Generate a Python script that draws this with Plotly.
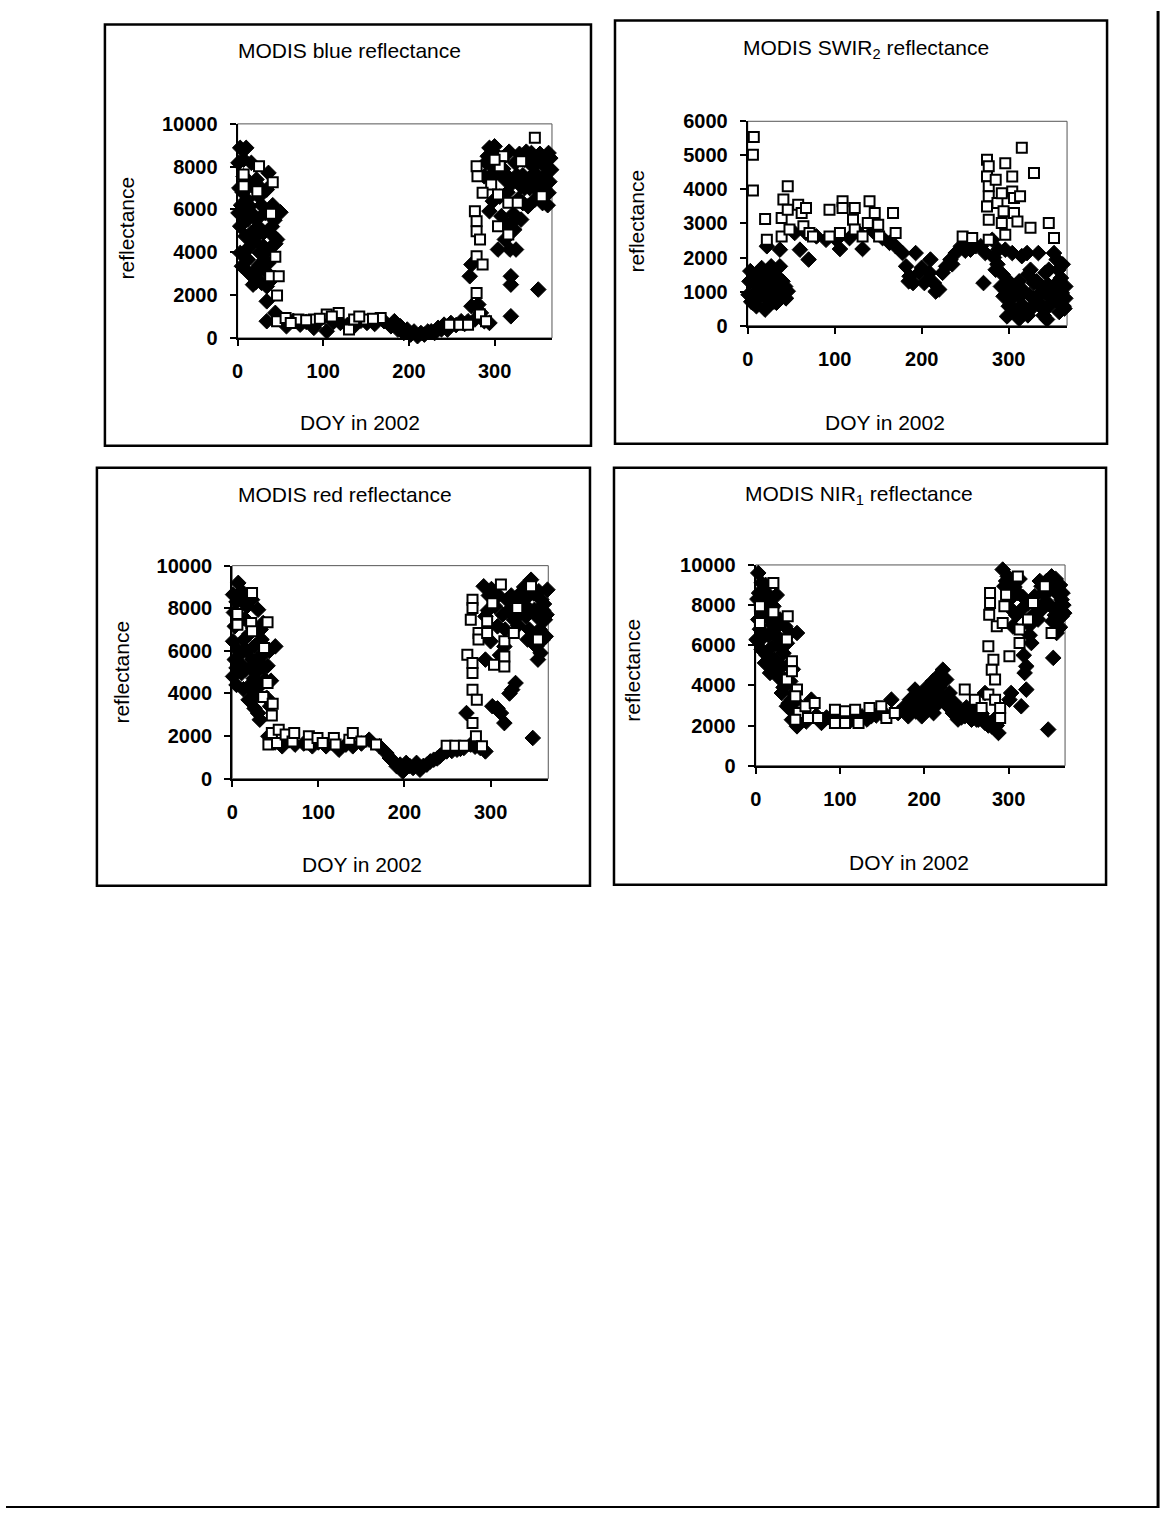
import plotly.graph_objects as go

# ---------------- data (DOY, reflectance) ----------------
BLUE_DIAMONDS = [
    (3, 8880), (10, 8880), (1, 8180), (7, 8330), (16, 8180), (7, 7550), (22, 7400), (1, 5840), (11, 6460),
    (3, 5220), (12, 5530), (14, 6150), (22, 5530), (9, 4750), (16, 4910), (26, 4910), (3, 3970), (5, 3350),
    (12, 3660), (18, 3040), (18, 2490), (22, 3040), (28, 2570), (26, 3970), (30, 4280), (30, 4910), (32, 5840),
    (34, 6930), (36, 7710), (42, 4750), (36, 3500), (34, 2410), (34, 1710), (50, 5870), (20, 7000), (28, 6200),
    (40, 5200), (38, 4200), (6, 6800), (15, 4300), (25, 6600), (44, 4400),
    (2, 7000), (4, 6200), (8, 5800), (13, 7200), (17, 5800), (19, 4500), (24, 5200), (27, 7000), (29, 3500),
    (32, 4000), (37, 6000), (41, 6200), (43, 5500), (46, 4600), (8, 4000), (14, 3000), (21, 2600), (25, 3400),
    (33, 3100), (39, 2700),
    (34, 780), (44, 1170), (50, 900), (57, 545), (65, 800), (73, 620), (80, 750), (89, 470), (95, 800),
    (104, 310), (112, 750), (120, 700), (128, 600), (136, 545), (144, 800), (151, 700), (160, 650), (171, 780),
    (179, 545), (183, 780), (187, 390), (190, 545), (194, 230), (198, 390), (202, 155), (206, 300), (210, 80),
    (214, 230), (218, 155), (222, 300), (226, 310), (230, 230), (234, 470), (238, 400), (241, 620), (245, 390),
    (249, 700), (255, 600), (261, 780), (265, 650), (269, 780), (277, 860), (288, 780), (294, 700),
    (271, 2880), (273, 3430), (273, 1480), (281, 1560), (284, 1170), (288, 7550), (292, 8490), (294, 8880),
    (294, 5920), (298, 6390), (300, 8950), (302, 7710), (304, 4130), (308, 8330), (308, 5690), (312, 7400),
    (312, 4600), (319, 2880), (319, 2490), (319, 1010), (318, 4130), (325, 4130), (323, 5060), (324, 8180),
    (331, 5530), (331, 7090), (335, 8330), (339, 6150), (339, 7400), (343, 8640), (347, 6460), (347, 7710),
    (351, 2260), (355, 8330), (358, 6780), (358, 7550), (363, 8640), (363, 6780), (366, 7860), (335, 7000),
    (345, 8000), (352, 7200), (360, 7400), (328, 6500), (315, 6800), (365, 8400),
    (296, 7600), (303, 8500), (306, 6600), (310, 7900), (314, 7600), (317, 8700), (320, 7200), (326, 7600),
    (329, 8600), (333, 7600), (337, 8700), (341, 7000), (344, 7400), (349, 8300), (353, 8600), (357, 8100),
    (361, 8000), (364, 7300), (350, 6900), (356, 6300), (362, 6200), (326, 5600), (333, 6300), (322, 5800),
    (316, 5300), (290, 8200), (297, 8000),
]
BLUE_SQUARES = [
    (7, 7630), (7, 7090), (25, 8020), (23, 6850), (41, 7270), (39, 5800), (44, 3790), (38, 2880), (48, 2880),
    (46, 1980), (46, 780), (56, 935), (71, 860), (89, 860), (104, 1090), (118, 1170), (130, 390), (136, 860),
    (150, 860), (167, 935), (62, 700), (80, 820), (96, 900), (110, 1000), (142, 1000), (158, 900),
    (247, 620), (259, 620), (269, 620),
    (279, 8020), (280, 7550), (277, 5920), (279, 5450), (279, 4980), (283, 4600), (279, 3820), (286, 3430),
    (279, 2100), (283, 1090), (290, 780), (296, 7165), (286, 6780), (304, 6700), (310, 8490), (306, 8020),
    (300, 8330), (304, 5220), (316, 4830), (316, 6310), (327, 6310), (331, 8260), (347, 9350), (355, 6620),
]

SWIR_DIAMONDS = [
    (1, 910), (6, 670), (10, 1450), (14, 1150), (18, 860), (22, 1550), (27, 1740), (31, 1150), (37, 1740),
    (43, 1150), (46, 1010), (3, 1600), (10, 570), (16, 1690), (20, 470), (25, 860), (33, 670), (39, 1060),
    (6, 1250), (28, 1300), (35, 900),
    (2, 1300), (4, 700), (8, 900), (12, 1200), (16, 1300), (19, 1000), (23, 1100), (26, 1400), (29, 900),
    (31, 1600), (35, 1400), (40, 1300), (44, 800), (12, 800), (24, 600), (30, 700),
    (22, 2330), (37, 2230), (60, 2230), (70, 1940), (106, 2250), (132, 2250),
    (54, 2720), (67, 2720), (79, 2620), (90, 2520), (102, 2520), (117, 2570), (128, 2720), (144, 2770),
    (155, 2570), (163, 2430),
    (170, 2330), (178, 2130), (182, 1740), (186, 1450), (190, 1250), (193, 2130), (197, 1550), (203, 1250),
    (209, 1550), (214, 1250), (220, 1060), (210, 1940), (224, 1550), (228, 1740), (233, 1940), (239, 2130),
    (245, 2330), (251, 2520), (256, 2230), (262, 2330), (268, 2330), (271, 1250), (273, 2130), (281, 2520),
    (288, 2230), (296, 2230), (304, 2130), (216, 1000), (200, 1700), (185, 1300), (235, 1800), (250, 2200),
    (285, 1640), (291, 1150), (294, 860), (300, 570), (298, 270), (306, 1150), (310, 470), (313, 860),
    (319, 370), (315, 2040), (321, 2130), (325, 1640), (329, 1250), (333, 860), (336, 570), (338, 1150),
    (344, 180), (346, 570), (350, 960), (346, 1640), (352, 2130), (355, 1940), (357, 1640), (361, 960),
    (363, 570), (365, 1150), (342, 1550), (334, 2130), (331, 670), (306, 470), (300, 1300), (318, 1000),
    (326, 500), (358, 400), (365, 800),
    (283, 2000), (287, 1800), (293, 1500), (297, 1000), (303, 800), (308, 900), (312, 1300), (316, 600),
    (322, 1500), (324, 900), (328, 800), (332, 1300), (338, 600), (341, 1000), (345, 1200), (348, 800),
    (353, 1200), (356, 700), (360, 1400), (362, 1800), (364, 500), (340, 300), (322, 300), (312, 200),
]
SWIR_SQUARES = [
    (7, 5540), (6, 5020), (6, 3970),
    (20, 3130), (22, 2520), (39, 3160), (39, 2620), (46, 4090), (41, 3700), (46, 3400), (48, 2820),
    (58, 3550), (62, 3310), (64, 2920), (67, 3450), (71, 2720), (75, 2620), (94, 2620), (94, 3400),
    (106, 2720), (109, 3650), (109, 3450), (123, 3450), (121, 3110), (123, 2820), (132, 2620), (138, 3010),
    (140, 3650), (146, 3310), (150, 2960), (151, 2620), (167, 3310), (170, 2720),
    (247, 2620), (258, 2570),
    (275, 4870), (277, 4680), (275, 4380), (277, 4090), (277, 3800), (275, 3500), (277, 3110), (277, 2520),
    (285, 4280), (287, 3600), (292, 3890), (292, 3010), (296, 4770), (294, 3360), (296, 2670), (304, 4380),
    (304, 3940), (306, 3750), (306, 3310), (313, 3800), (315, 5220), (310, 3060), (325, 2870), (329, 4480),
    (346, 3010), (352, 2570),
]

RED_DIAMONDS = [
    (1, 8640), (7, 9190), (11, 8800), (17, 8090), (23, 8400), (30, 7930), (36, 7310), (3, 7150), (1, 6450),
    (3, 5590), (1, 4800), (11, 5900), (15, 5120), (19, 4330), (23, 3710), (28, 4020), (30, 3080), (32, 2770),
    (36, 5270), (26, 6220), (50, 6210), (23, 5590), (11, 4960), (34, 6530), (38, 4650), (44, 3400), (7, 6000),
    (15, 7500), (20, 6800), (5, 5200), (40, 3800), (28, 5000),
    (2, 7800), (5, 8300), (9, 7400), (13, 6500), (17, 6000), (21, 5200), (25, 4700), (29, 5600), (33, 4400),
    (37, 5900), (41, 5300), (45, 4600), (9, 5400), (13, 4200), (19, 3700), (26, 3300), (5, 4400), (13, 8600),
    (33, 7000), (43, 6000),
    (42, 1990), (50, 1700), (58, 1520), (66, 1800), (73, 1600), (83, 1650), (93, 1520), (100, 1700),
    (109, 1520), (116, 1700), (124, 1360), (132, 1600), (140, 1520), (150, 1650), (159, 1830), (171, 1520),
    (179, 1200), (183, 970), (187, 810), (191, 580), (195, 660), (198, 340), (202, 740), (206, 600),
    (210, 500), (214, 740), (218, 420), (222, 600), (226, 660), (230, 810), (234, 890), (238, 950),
    (241, 1050), (245, 1200), (249, 1280), (255, 1300), (261, 1360), (265, 1400), (269, 1440), (277, 1600),
    (282, 1500), (288, 1440), (294, 1280),
    (272, 3080), (292, 9030), (294, 7620), (300, 6450), (294, 5590), (302, 3400), (308, 3300), (312, 3080),
    (316, 2610), (325, 4180), (329, 4490), (308, 7150), (319, 8400), (335, 8720), (347, 9340), (359, 8400),
    (366, 8870), (353, 6210), (351, 7930), (341, 7620), (363, 7460), (364, 6680), (349, 1910), (355, 5590),
    (343, 6530), (327, 7460), (322, 4000), (298, 8600), (330, 8000), (338, 8200), (356, 8800), (361, 7900),
    (345, 7000),
    (297, 7900), (301, 8900), (305, 8100), (309, 8600), (314, 7700), (317, 7000), (321, 7900), (324, 8600),
    (328, 8400), (332, 7200), (336, 7800), (339, 9000), (342, 8500), (346, 7900), (350, 8700), (354, 7600),
    (357, 7000), (360, 6500), (362, 8200), (365, 7700), (350, 6600), (358, 5900), (311, 5800), (316, 6200),
]
RED_SQUARES = [
    (6, 7730), (6, 7230), (23, 8720), (22, 7310), (23, 6920), (41, 7340), (37, 6130), (41, 4490), (36, 3830),
    (47, 3520), (46, 2960), (46, 2140), (42, 1600), (54, 2300), (52, 1670), (62, 2070), (70, 1750), (72, 2140),
    (89, 1990), (89, 1600), (99, 1910), (105, 1670), (118, 1910), (120, 1600), (136, 1830), (140, 2140),
    (150, 1750), (167, 1600),
    (249, 1550), (259, 1550), (269, 1550),
    (279, 8400), (279, 8010), (277, 7460), (273, 5820), (279, 5430), (279, 4960), (279, 4180), (284, 3710),
    (279, 2610), (283, 1990), (290, 1520), (286, 6840), (286, 6530), (296, 7390), (296, 6840), (302, 8230),
    (312, 9110), (304, 5350), (316, 6450), (316, 5740), (316, 5270), (327, 6840), (331, 8010), (347, 9030),
    (355, 6530),
]

NIR_DIAMONDS = [
    (3, 9600), (7, 9100), (11, 8690), (15, 8270), (21, 7940), (29, 7280), (35, 6940), (41, 6610), (7, 8100),
    (3, 7280), (1, 6280), (7, 5780), (11, 5120), (17, 4620), (23, 5280), (27, 5950), (31, 4950), (35, 4290),
    (31, 3620), (37, 2960), (43, 2290), (49, 1960), (49, 6610), (43, 3290), (15, 6500), (20, 7000), (25, 8500),
    (4, 8600), (12, 9000), (39, 5000), (46, 2600),
    (2, 8300), (5, 6800), (9, 7600), (13, 7800), (17, 7300), (19, 5900), (23, 6500), (25, 6900), (27, 4400),
    (29, 6300), (33, 5600), (37, 6100), (41, 4200), (45, 3600), (9, 6400), (13, 5500), (33, 3900), (39, 3100),
    (44, 4800), (47, 3200), (51, 2200), (21, 4900),
    (55, 2460), (60, 2200), (66, 3290), (72, 2500), (78, 2130), (84, 2400), (90, 2290), (96, 2500),
    (102, 2460), (108, 2300), (114, 2290), (120, 2500), (126, 2460), (132, 2300), (137, 2460), (143, 2500),
    (149, 2620), (155, 2500), (161, 3290), (169, 2620),
    (177, 2960), (181, 2460), (183, 3290), (189, 3790), (195, 3290), (197, 2460), (201, 2790), (207, 3460),
    (211, 2620), (213, 3950), (216, 4450), (216, 3290), (222, 4780), (226, 4290), (228, 2960), (230, 3620),
    (234, 2620), (236, 3120), (242, 2620), (248, 2460), (256, 2290), (264, 2290), (272, 2130), (280, 1960),
    (288, 1630), (190, 2700), (203, 3900), (220, 3500), (240, 2300), (250, 2900), (260, 2500), (268, 2600),
    (283, 2300),
    (185, 2800), (192, 3200), (199, 3600), (205, 3000), (210, 4200), (214, 3000), (218, 3900), (224, 3300),
    (232, 2800), (238, 2900), (244, 2400), (252, 2500), (258, 2800), (262, 2300), (270, 2400), (276, 2000),
    (286, 2000),
    (272, 3620), (293, 9770), (299, 9430), (295, 8940), (301, 8270), (305, 6940), (301, 3290), (303, 3620),
    (315, 2960), (319, 4620), (321, 3790), (321, 4950), (327, 6110), (335, 7280), (343, 8110), (351, 9430),
    (357, 8600), (363, 8270), (347, 1800), (353, 5370), (357, 6610), (363, 7440), (359, 8940), (331, 8440),
    (339, 8940), (315, 7770), (311, 8600), (309, 7500), (325, 7000), (345, 8600), (365, 8000), (340, 7800),
    (355, 7500),
    (297, 9200), (303, 7800), (307, 8900), (313, 9300), (317, 8400), (323, 8100), (329, 7500), (333, 8000),
    (337, 9200), (341, 8600), (345, 9200), (349, 8000), (353, 8900), (356, 9300), (361, 9000), (364, 8600),
    (352, 7200), (358, 7900), (361, 6900), (366, 7600), (318, 5500), (325, 6500),
]
NIR_SQUARES = [
    (5, 7940), (5, 7110), (21, 9100), (21, 7640), (38, 7440), (37, 6280), (37, 4290), (43, 5200), (43, 4700),
    (49, 3790), (47, 3460), (51, 2620), (47, 2290), (59, 2960), (62, 2380), (70, 3120), (74, 2380), (94, 2790),
    (94, 2130), (106, 2710), (106, 2130), (118, 2790), (122, 2130), (135, 2870), (149, 2960), (155, 2380),
    (165, 2620),
    (248, 3790), (260, 3290), (268, 2870),
    (278, 8600), (278, 8110), (277, 7520), (276, 5950), (282, 5280), (280, 4780), (284, 4290), (276, 3540),
    (284, 3290), (290, 2870), (290, 2380), (286, 6940), (293, 7110), (295, 7940), (297, 8520), (301, 5450),
    (311, 9430), (313, 6780), (313, 6110), (323, 7280), (329, 8110), (343, 8940), (351, 6610),
]

TITLES = ["MODIS blue reflectance", "MODIS SWIR<sub>2</sub> reflectance",
          "MODIS red reflectance", "MODIS NIR<sub>1</sub> reflectance"]
X_TITLE = "DOY in 2002"
Y_TITLE = "reflectance"
Y_MAX = [10000, 6000, 10000, 10000]
Y_STEP = [2000, 1000, 2000, 2000]
X_MAX = 367
X_STEP = 100

# ---------------- layout (pixel geometry) ----------------
W, H = 1164, 1519
FONT = "Liberation Sans, Arial, sans-serif"
# measured mapping from figure pixels to photographed pixels (page is captured slightly scaled)
SX, OX = 0.9947, 6.1
SY, OY = 0.98538, 11.6


def fx(x):
    """target picture x (px) -> paper fraction"""
    return ((x - OX) / SX) / W


def fy(y):
    """target picture y (px, from top) -> paper fraction"""
    return 1 - (y / SY - OY) / H


GEOM = [
    dict(plot=(237.7, 124.3, 552, 338.3), box=(105, 25, 591, 446), t=(350, 51), yt=(127, 228), xt=(360, 423)),
    dict(plot=(747.7, 121.7, 1067, 326), box=(615, 21, 1107, 444), t=(866, 49), yt=(637, 221), xt=(885, 423)),
    dict(plot=(232.3, 566, 548.3, 779), box=(97, 468, 590, 886), t=(345, 495), yt=(122, 672), xt=(362, 865)),
    dict(plot=(755.7, 565.3, 1065, 766), box=(614, 468, 1106, 885), t=(859, 495), yt=(633, 670), xt=(909, 863)),
]

SERIES = [(BLUE_DIAMONDS, BLUE_SQUARES), (SWIR_DIAMONDS, SWIR_SQUARES),
          (RED_DIAMONDS, RED_SQUARES), (NIR_DIAMONDS, NIR_SQUARES)]

fig = go.Figure()
shapes = []
annotations = []

for i, ((dia, sq), g) in enumerate(zip(SERIES, GEOM)):
    n = "" if i == 0 else str(i + 1)
    xa, ya = "x" + n, "y" + n
    fig.add_trace(go.Scatter(
        x=[p[0] for p in dia], y=[p[1] for p in dia], xaxis=xa, yaxis=ya, mode="markers",
        marker=dict(symbol="diamond", size=12, color="black", line=dict(color="black", width=1)),
        cliponaxis=False, showlegend=False, hoverinfo="skip"))
    fig.add_trace(go.Scatter(
        x=[p[0] for p in sq], y=[p[1] for p in sq], xaxis=xa, yaxis=ya, mode="markers",
        marker=dict(symbol="square", size=10, color="white", line=dict(color="black", width=2)),
        cliponaxis=False, showlegend=False, hoverinfo="skip"))

    l, t, r, b = g["plot"]
    axis_common = dict(showline=True, linecolor="black", linewidth=2, ticks="outside", ticklen=6,
                       tickwidth=2, tickcolor="black", showgrid=False, zeroline=False,
                       tickfont=dict(family=FONT, size=20, color="black", weight="bold"))
    fig.layout["xaxis" + n] = dict(domain=[fx(l), fx(r)], range=[0, X_MAX], tick0=0, dtick=X_STEP,
                                   anchor=ya, ticklabelstandoff=8, **axis_common)
    fig.layout["yaxis" + n] = dict(domain=[fy(b), fy(t)], range=[0, Y_MAX[i]], tick0=0, dtick=Y_STEP[i],
                                   tickformat="d", anchor=xa, ticklabelstandoff=8, **axis_common)

    shapes.append(dict(type="rect", xref="paper", yref="paper", x0=fx(l), x1=fx(r), y0=fy(b), y1=fy(t),
                       line=dict(color="#555555", width=1), layer="below"))
    bl, bt, br, bb = g["box"]
    shapes.append(dict(type="rect", xref="paper", yref="paper", x0=fx(bl), x1=fx(br), y0=fy(bb), y1=fy(bt),
                       line=dict(color="black", width=2.5)))

    annotations.append(dict(text=TITLES[i], x=fx(g["t"][0]), y=fy(g["t"][1]), xref="paper", yref="paper",
                            showarrow=False, xanchor="center", yanchor="middle",
                            font=dict(family=FONT, size=21, color="black")))
    annotations.append(dict(text=Y_TITLE, x=fx(g["yt"][0]), y=fy(g["yt"][1]), xref="paper", yref="paper",
                            showarrow=False, xanchor="center", yanchor="middle", textangle=-90,
                            font=dict(family=FONT, size=21, color="black")))
    annotations.append(dict(text=X_TITLE, x=fx(g["xt"][0]), y=fy(g["xt"][1]), xref="paper", yref="paper",
                            showarrow=False, xanchor="center", yanchor="middle",
                            font=dict(family=FONT, size=21, color="black")))

# page border: right and bottom
shapes.append(dict(type="line", xref="paper", yref="paper", x0=fx(1158), x1=fx(1158), y0=1, y1=0,
                   line=dict(color="black", width=3)))
shapes.append(dict(type="line", xref="paper", yref="paper", x0=0, x1=fx(1158), y0=1 / H, y1=1 / H,
                   line=dict(color="black", width=2)))

fig.update_layout(width=W, height=H, margin=dict(l=0, r=0, t=0, b=0, pad=0),
                  paper_bgcolor="white", plot_bgcolor="white", shapes=shapes, annotations=annotations,
                  font=dict(family=FONT, color="black"), showlegend=False)

fig.write_html("out.html")
